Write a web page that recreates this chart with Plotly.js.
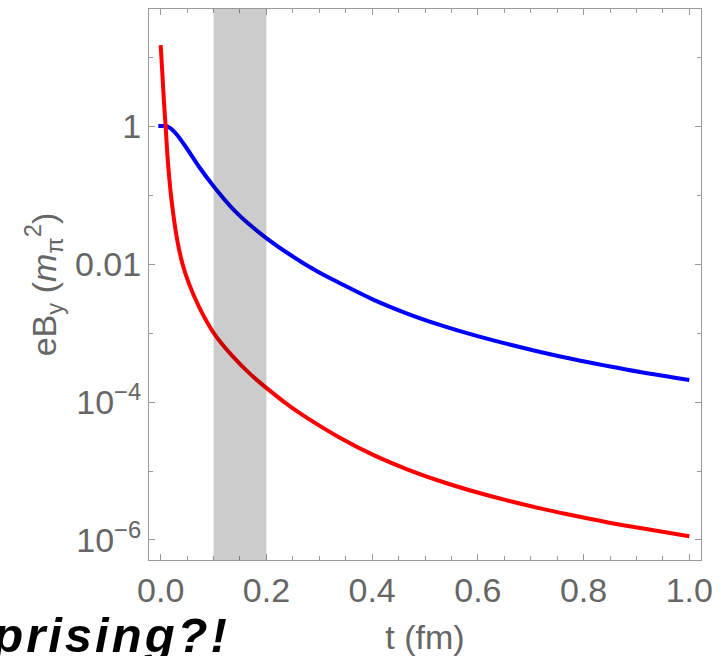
<!DOCTYPE html>
<html>
<head>
<meta charset="utf-8">
<script src="https://cdn.plot.ly/plotly-3.0.1.min.js"></script>
<style>
  html, body { margin: 0; padding: 0; background: #fff; }
  #chart { width: 728px; height: 656px; }
  .annotation-text { letter-spacing: 3px; }
</style>
</head>
<body>
<div id="chart"></div>
<script>
// ---- data ----
var blueT = [-0.0045, 0, 0.0095, 0.0189, 0.0284, 0.0473, 0.0725, 0.1008, 0.1355, 0.167, 0.1998, 0.2427, 0.2932, 0.339, 0.402, 0.465, 0.528, 0.591, 0.655, 0.718, 0.781, 0.844, 0.907, 1.0];
var blueB = [1.0, 1.0, 1.0, 0.926, 0.784, 0.501, 0.257, 0.132, 0.0642, 0.0379, 0.0238, 0.01396, 0.00805, 0.00527, 0.00305, 0.00193, 0.00131, 0.000938, 0.000695, 0.000531, 0.000416, 0.000334, 0.000272, 0.000208];

var redT = [0, 0.003, 0.006, 0.0093, 0.0144, 0.022, 0.0314, 0.041, 0.0535, 0.0725, 0.1008, 0.1355, 0.167, 0.1998, 0.2427, 0.2768, 0.339, 0.402, 0.465, 0.528, 0.591, 0.655, 0.718, 0.781, 0.844, 0.907, 1.0];
var redB = [14.9, 6.07, 2.38, 1.0, 0.257, 0.068, 0.022, 0.0102, 0.0052, 0.0024, 9.9e-4, 4.65e-4, 2.64e-4, 1.60e-4, 8.89e-5, 5.90e-5, 3.04e-5, 1.71e-5, 1.067e-5, 7.16e-6, 5.08e-6, 3.75e-6, 2.87e-6, 2.26e-6, 1.81e-6, 1.49e-6, 1.13e-6];

var bandT = [0.1, 0.2];

var xTickVals = [0, 0.2, 0.4, 0.6, 0.8, 1.0];
var xTickText = ['0.0', '0.2', '0.4', '0.6', '0.8', '1.0'];
var yTickVals = [1, 0.01, 1e-4, 1e-6];
var yTickText = ['1', '0.01', '10<sup>\u22124</sup>', '10<sup>\u22126</sup>'];
var yMinorVals = [10, 0.1, 1e-3, 1e-5];

var xTitle = 't (fm)';
var yTitle = 'eB<sub>y</sub> (<i>m</i><sub>\u03c0</sub><sup>2</sup>)';
var noteText = 'surprising?!';

// ---- styling ----
var FONT = '"Liberation Sans", Arial, Helvetica, sans-serif';
var frameColor = '#9a9a9a';
var labelColor = '#666666';

var traces = [
  { x: blueT, y: blueB, type: 'scatter', mode: 'lines',
    line: { color: '#0000ff', width: 4, shape: 'spline', smoothing: 1.0 }, hoverinfo: 'skip' },
  { x: redT, y: redB, type: 'scatter', mode: 'lines',
    line: { color: '#ff0000', width: 4, shape: 'spline', smoothing: 1.0 }, hoverinfo: 'skip' }
];

var layout = {
  width: 728, height: 656,
  margin: { l: 149, r: 27, t: 9, b: 96, pad: 0 },
  paper_bgcolor: '#ffffff', plot_bgcolor: '#ffffff',
  showlegend: false,
  font: { family: FONT, color: labelColor, size: 34 },
  xaxis: {
    range: [-0.0221, 1.0221],
    showline: true, linecolor: frameColor, linewidth: 1, mirror: 'ticks',
    showgrid: false, zeroline: false,
    ticks: 'inside', ticklen: 6, tickwidth: 1, tickcolor: frameColor,
    tickmode: 'array', tickvals: xTickVals, ticktext: xTickText,
    tickfont: { family: FONT, size: 34, color: labelColor },
    minor: { dtick: 0.05, tick0: 0, ticks: 'inside', ticklen: 4, tickwidth: 1, tickcolor: frameColor, showgrid: false },
    title: { text: xTitle, font: { family: FONT, size: 34, color: labelColor }, standoff: 18 }
  },
  yaxis: {
    type: 'log',
    range: [-6.29, 1.696],
    showline: true, linecolor: frameColor, linewidth: 1, mirror: 'ticks',
    showgrid: false, zeroline: false,
    ticks: 'inside', ticklen: 6, tickwidth: 1, tickcolor: frameColor,
    tickmode: 'array', tickvals: yTickVals, ticktext: yTickText,
    tickfont: { family: FONT, size: 34, color: labelColor },
    minor: { tickmode: 'array', tickvals: yMinorVals, ticks: 'inside', ticklen: 4, tickwidth: 1, tickcolor: frameColor, showgrid: false },
    title: { text: yTitle, font: { family: FONT, size: 34, color: labelColor }, standoff: 8 }
  },
  shapes: [{
    type: 'rect', xref: 'x', yref: 'paper',
    x0: bandT[0], x1: bandT[1], y0: 0, y1: 1,
    fillcolor: 'rgba(0,0,0,0.2)', line: { width: 0 }, layer: 'above'
  }],
  annotations: [{
    text: '<b><i>' + noteText + '</i></b>',
    xref: 'paper', yref: 'paper',
    x: (232 - 149) / 552, y: (560 - 664) / 551,
    xanchor: 'right', yanchor: 'bottom',
    showarrow: false,
    font: { family: FONT, size: 49, color: '#000000' }
  }]
};

Plotly.newPlot('chart', traces, layout, { staticPlot: true, displayModeBar: false });
</script>
</body>
</html>
